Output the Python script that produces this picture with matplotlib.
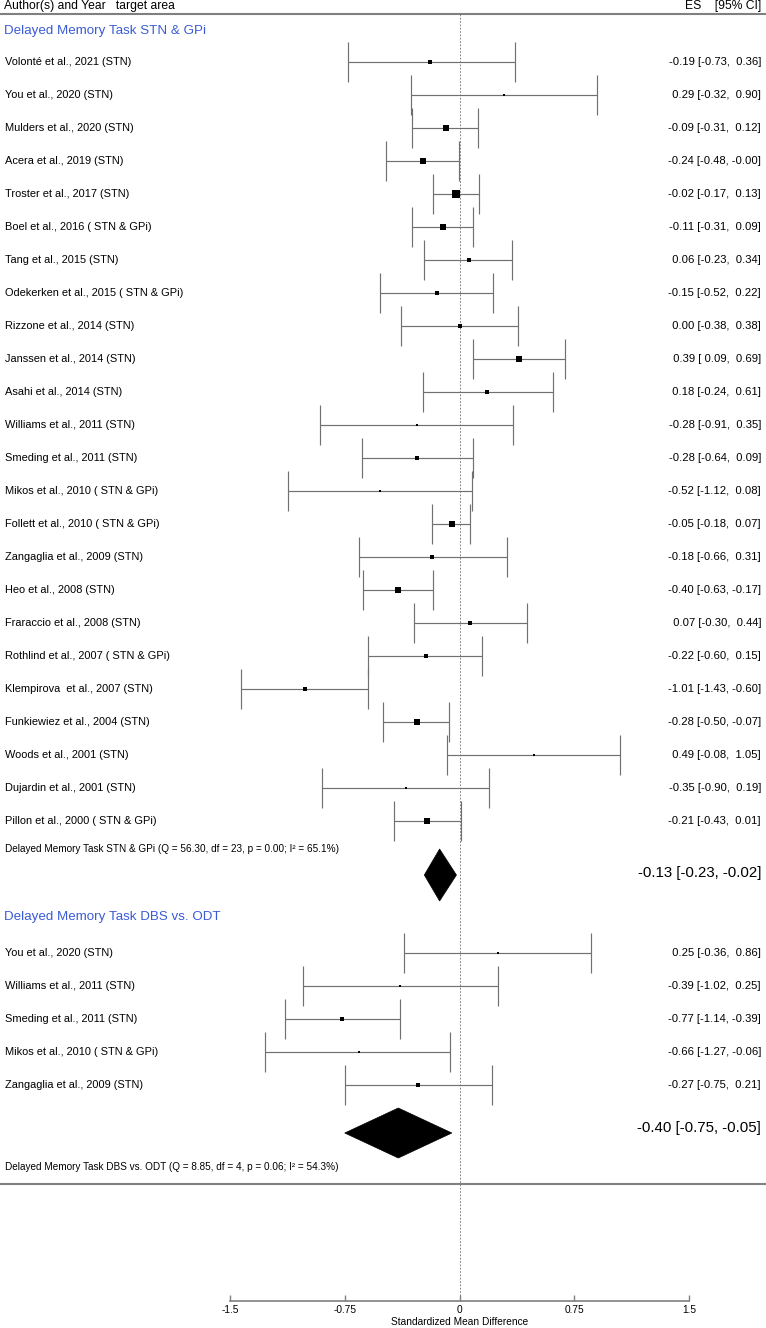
import matplotlib
matplotlib.use('Agg')
import matplotlib.pyplot as plt
import matplotlib.transforms as mtransforms
from matplotlib.patches import Polygon
import numpy as np

plt.rcParams['font.family'] = ['Liberation Sans', 'DejaVu Sans']

# ---------------- data ----------------
title1 = "Delayed Memory Task STN & GPi"
studies1 = ["Volonté et al., 2021 (STN)", "You et al., 2020 (STN)", "Mulders et al., 2020 (STN)",
            "Acera et al., 2019 (STN)", "Troster et al., 2017 (STN)", "Boel et al., 2016 ( STN & GPi)",
            "Tang et al., 2015 (STN)", "Odekerken et al., 2015 ( STN & GPi)", "Rizzone et al., 2014 (STN)",
            "Janssen et al., 2014 (STN)", "Asahi et al., 2014 (STN)", "Williams et al., 2011 (STN)",
            "Smeding et al., 2011 (STN)", "Mikos et al., 2010 ( STN & GPi)", "Follett et al., 2010 ( STN & GPi)",
            "Zangaglia et al., 2009 (STN)", "Heo et al., 2008 (STN)", "Fraraccio et al., 2008 (STN)",
            "Rothlind et al., 2007 ( STN & GPi)", "Klempirova  et al., 2007 (STN)", "Funkiewiez et al., 2004 (STN)",
            "Woods et al., 2001 (STN)", "Dujardin et al., 2001 (STN)", "Pillon et al., 2000 ( STN & GPi)"]
es1 = [-0.19, 0.29, -0.09, -0.24, -0.02, -0.11, 0.06, -0.15, 0.00, 0.39, 0.18, -0.28,
       -0.28, -0.52, -0.05, -0.18, -0.40, 0.07, -0.22, -1.01, -0.28, 0.49, -0.35, -0.21]
lo1 = [-0.73, -0.32, -0.31, -0.48, -0.17, -0.31, -0.23, -0.52, -0.38, 0.09, -0.24, -0.91,
       -0.64, -1.12, -0.18, -0.66, -0.63, -0.30, -0.60, -1.43, -0.50, -0.08, -0.90, -0.43]
hi1 = [0.36, 0.90, 0.12, -0.001, 0.13, 0.09, 0.34, 0.22, 0.38, 0.69, 0.61, 0.35,
       0.09, 0.08, 0.07, 0.31, -0.17, 0.44, 0.15, -0.60, -0.07, 1.05, 0.19, 0.01]
w1 = [1.3, 0.9, 5.3, 4.5, 7.2, 4.5, 3.0, 1.8, 1.8, 3.7, 1.8, 0.6,
      1.8, 0.6, 6.2, 1.3, 4.5, 2.4, 2.4, 1.3, 5.3, 0.6, 0.6, 5.3]
pooled1 = (-0.13, -0.23, -0.02)
het1 = "Delayed Memory Task STN & GPi (Q = 56.30, df = 23, p = 0.00; I\u00b2 = 65.1%)"

title2 = "Delayed Memory Task DBS vs. ODT"
studies2 = ["You et al., 2020 (STN)", "Williams et al., 2011 (STN)", "Smeding et al., 2011 (STN)",
            "Mikos et al., 2010 ( STN & GPi)", "Zangaglia et al., 2009 (STN)"]
es2 = [0.25, -0.39, -0.77, -0.66, -0.27]
lo2 = [-0.36, -1.02, -1.14, -1.27, -0.75]
hi2 = [0.86, 0.25, -0.39, -0.06, 0.21]
w2 = [0.9, 0.9, 2.4, 0.9, 1.8]
pooled2 = (-0.40, -0.75, -0.05)
het2 = "Delayed Memory Task DBS vs. ODT (Q = 8.85, df = 4, p = 0.06; I\u00b2 = 54.3%)"

xticks = [-1.5, -0.75, 0, 0.75, 1.5]
xticklabels = ["-1.5", "-0.75", "0", "0.75", "1.5"]
xlabel = "Standardized Mean Difference"

# ---------------- layout ----------------
W, H = 766, 1328
fig = plt.figure(figsize=(W / 100, H / 100), dpi=100)
ax = fig.add_axes([230 / W, 0, 459 / W, 1])
ax.set_xlim(-1.5, 1.5)
ax.set_ylim(H, 0)
ax.axis('off')
blend = mtransforms.blended_transform_factory(fig.transFigure, ax.transData)

LINE = '#707070'
BLUE = '#3a5bd6'
ROW = 33
CAP = 20

def ci_text(e, l, h):
    return f"{e:5.2f} [{l:5.2f}, {h:5.2f}]"

def draw_rows(studies, es, lo, hi, w, y0):
    ys = y0 + ROW * np.arange(len(studies))
    for s, e, l, h, wt, y in zip(studies, es, lo, hi, w, ys):
        ax.hlines(y, l, h, color=LINE, lw=0.85)
        ax.vlines([l, h], y - CAP, y + CAP, color=LINE, lw=0.85)
        ax.plot(e, y, 's', color='black', ms=2.0 * np.sqrt(wt), mew=0)
        ax.text(5 / W, y, s, transform=blend, ha='left', va='center', fontsize=7.9)
        ax.text(761 / W, y, ci_text(e, l, h), transform=blend, ha='right', va='center', fontsize=8.1)
    return ys

def diamond(p, yc, hh, ytext):
    e, l, h = p
    ax.add_patch(Polygon([(l, yc), (e, yc - hh), (h, yc), (e, yc + hh)], closed=True,
                         facecolor='black', edgecolor='black', lw=0.5))
    ax.text(761 / W, ytext, f"{e:.2f} [{l:.2f}, {h:.2f}]", transform=blend,
            ha='right', va='center', fontsize=10.8)

# header
ax.text(4 / W, 6, "Author(s) and Year   target area", transform=blend, ha='left', va='center', fontsize=8.7)
ax.text(761 / W, 6, "ES    [95% CI]", transform=blend, ha='right', va='center', fontsize=8.7)
ax.plot([0, 1], [14, 14], transform=blend, color='#808080', lw=1.5, clip_on=False)

# zero line
ax.vlines(0, 14, 1301, color='#666666', lw=0.6, linestyles=(0, (2, 2)))

# section 1
ax.text(4 / W, 31, title1, transform=blend, ha='left', va='center', fontsize=9.6, color=BLUE)
draw_rows(studies1, es1, lo1, hi1, w1, 62)
ax.text(5 / W, 849, het1, transform=blend, ha='left', va='center', fontsize=7.2)
diamond(pooled1, 875, 26, 873)

# section 2
ax.text(4 / W, 917, title2, transform=blend, ha='left', va='center', fontsize=9.6, color=BLUE)
draw_rows(studies2, es2, lo2, hi2, w2, 953)
diamond(pooled2, 1133, 25, 1128)
ax.text(5 / W, 1167, het2, transform=blend, ha='left', va='center', fontsize=7.2)
ax.plot([0, 1], [1184, 1184], transform=blend, color='#808080', lw=1.5, clip_on=False)

# x axis
axx = fig.add_axes([230 / W, (H - 1301) / H, 459 / W, 1 / H])
axx.set_xlim(-1.5, 1.5)
axx.set_yticks([])
for sp in ['top', 'left', 'right']:
    axx.spines[sp].set_visible(False)
axx.patch.set_visible(False)
axx.spines['bottom'].set_color('#808080')
axx.spines['bottom'].set_linewidth(1.2)
axx.set_xticks(xticks)
axx.set_xticklabels(xticklabels)
axx.tick_params(axis='x', direction='in', length=4, width=1, color='#808080', labelsize=7.3, pad=3)
axx.set_xlabel(xlabel, fontsize=7.3, labelpad=1)

fig.savefig('out.png', dpi=100)
